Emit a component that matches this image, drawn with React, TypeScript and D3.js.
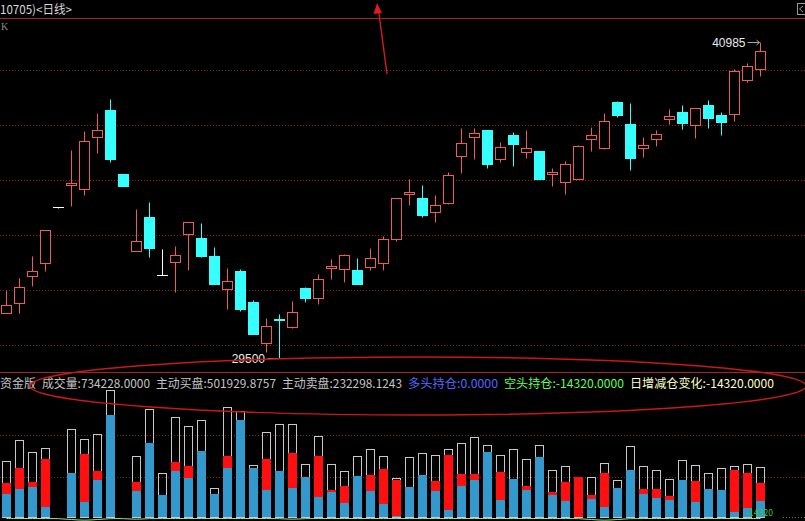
import React from "react";
import * as d3 from "d3";

const WIDTH = 805;
const HEIGHT = 521;

// ---- price data (daily candles) ----
const opens = [
  31155, 31520, 32500, 32955, 35010, 35800, 35640, 37530, 38525, 36185,
  33410, 34645, 32525, 33010, 34005, 33870, 33220, 32010, 32675, 31555,
  30045, 30930, 30650, 32055, 31700, 32780, 32735, 32710, 32830, 32975,
  33835, 35470, 35325, 34805, 35155, 36865, 37555, 37800, 36755, 37615,
  37010, 37035, 36185, 35920, 36005, 37460, 37155, 38825, 38015, 37155,
  37480, 38185, 38450, 37990, 38705, 38345, 38370, 39615, 40005,
];
const highs = [
  31980, 32420, 33220, 34160, 35010, 37070, 37760, 38405, 38925, 36185,
  34925, 35170, 33460, 33580, 34445, 34405, 33555, 32770, 32735, 31620,
  30965, 31100, 31580, 32100, 32565, 33110, 33290, 33135, 33520, 33945,
  35325, 36015, 35800, 35435, 36260, 37860, 37860, 37800, 37370, 37735,
  37800, 37035, 36425, 36670, 37250, 37895, 38405, 38860, 38790, 37530,
  37800, 38550, 38705, 38585, 38890, 38465, 40005, 40245, 40985,
];
const lows = [
  31155, 31145, 32140, 32685, 34965, 35035, 35435, 36950, 36645, 35775,
  33410, 33195, 32525, 31920, 32710, 33195, 32210, 31290, 31230, 30385,
  29740, 29500, 30590, 31555, 31475, 32380, 32260, 32200, 32710, 32710,
  33765, 35070, 34645, 34445, 35110, 36225, 36745, 36425, 36645, 36490,
  36790, 36015, 35775, 35480, 36005, 37035, 37105, 38260, 36345, 36825,
  37225, 38005, 37835, 37520, 37880, 37615, 38125, 39540, 39770,
];
const closes = [
  31435, 32080, 32675, 34150, 35010, 35870, 37400, 37800, 36745, 35775,
  33750, 33520, 32525, 33255, 34445, 33230, 32210, 32310, 31290, 30385,
  30675, 30890, 31170, 31700, 32380, 32855, 33255, 32200, 33135, 33825,
  35325, 35545, 34710, 35060, 36160, 37315, 37700, 36560, 37170, 37290,
  37130, 36015, 36260, 36560, 37215, 37605, 38125, 38355, 36790, 37250,
  37640, 38305, 38065, 38585, 38245, 38100, 39955, 40125, 40670,
];

// ---- volume data (thousand lots): active sell (blue) and active buy ----
const activeSell = [
  335, 414, 443, 152, 2, 652, 226, 546, 1507, 2,
  384, 1097, 325, 679, 580, 979, 340, 724, 1437, 728,
  399, 685, 433, 586, 295, 374, 211, 606, 384, 192,
  18, 445, 620, 384, 99, 458, 546, 960, 251, 561,
  399, 891, 325, 236, 5, 261, 143, 428, 690, 340,
  276, 251, 546, 226, 414, 399, 69, 128, 232.298,
];
const activeBuy = [
  495, 722, 522, 860, 2, 648, 933, 686, 369, 2,
  515, 498, 320, 805, 758, 449, 84, 908, 124, 40,
  859, 684, 941, 192, 908, 402, 463, 295, 622, 706,
  552, 441, 321, 537, 910, 640, 630, 99, 670, 439,
  456, 168, 370, 512, 584, 328, 648, 114, 354, 411,
  412, 316, 291, 535, 231, 320, 689, 655, 501.93,
];
// faint holding line at the very bottom of the volume pane
const holdLine = [
  1, 1, 1, 1, 1, 0.5, 0, 0.5, 1, 1,
  0.5, 1, 1, 1, 1, 1, 1, 1, 1, 1,
  1, 1, 0.5, 1, 1, 1, 1, 1, 1, 1,
  1, 1, 1, 1, 1, 1, 1, 1, 1, 1,
  1, 1, 1, 1, 1, 0.5, 0, 0.5, 1, 1,
  1, 1, 1, 1, 1, 1, 1, 1, 1,
];

const priceTicks = [30000, 32000, 34000, 36000, 38000, 40000];

const headerText = "10705)<日线>";
const infoSegments = [
  { text: "资金版", color: "#c4c4c4" },
  { text: "成交量:734228.0000", color: "#c4c4c4" },
  { text: "主动买盘:501929.8757", color: "#c4c4c4" },
  { text: "主动卖盘:232298.1243", color: "#c4c4c4" },
  { text: "多头持仓:0.0000", color: "#5468ff" },
  { text: "空头持仓:-14320.0000", color: "#5cff5c" },
  { text: "日增减仓变化:-14320.0000", color: "#ffffc8" },
];

const RED = "#ec5a5a";
const CYAN = "#36ffff";
const GRID = "#8a1c1c";
const LINE = "#a82222";
const VBLUE = "#3399cc";
const VRED = "#ff1010";
const VOUT = "#c8c8c8";

const textWidth = (s: string, unit = 6) => {
  let w = 0;
  for (const ch of s) w += /[\u2E80-\u9FFF\uFF00-\uFF60]/.test(ch) ? unit * 2 : unit;
  return w;
};

const FONT = "'Noto Sans CJK SC', 'Noto Sans', sans-serif";

function FixedText({ x, y, text, color, size = 12 }: { x: number; y: number; text: string; color: string; size?: number }) {
  return (
    <text
      x={x}
      y={y}
      fill={color}
      fontSize={size}
      fontFamily={FONT}
      dominantBaseline="central"
      textLength={textWidth(text, size / 2)}
      lengthAdjust="spacingAndGlyphs"
    >
      {text}
    </text>
  );
}

export default function App() {
  const n = opens.length;
  const xBand = d3.scaleBand<number>().domain(d3.range(n)).range([0, 13 * n]);
  const cx = (i: number) => (xBand(i) as number) + xBand.bandwidth() / 2;

  const py = d3.scaleLinear().domain([30000, 40000]).range([344.5, 69.5]);
  const snap = (v: number) => Math.round(py(v)) + 0.5;

  const volTop = 392;
  const volBase = 517;
  const vy = d3.scaleLinear().domain([0, 2000]).range([volBase, volBase - 2000 / 14.77]);
  const holdY = d3.scaleLinear().domain([0, 1]).range([520.5, 518.5]);

  const hiIdx = d3.maxIndex(highs);
  const loIdx = d3.minIndex(lows);

  // info segments layout
  let cursor = 0;
  const infoLaid = infoSegments.map((s) => {
    const x0 = cursor;
    cursor += textWidth(s.text) + 6;
    return { ...s, x: x0 };
  });

  const holdPath = d3
    .line<number>()
    .x((_, i) => cx(i))
    .y((v) => holdY(v))
    .curve(d3.curveBasis)(holdLine);

  return (
    <div style={{ position: "absolute", left: 0, top: 0 }}>
      <svg width={WIDTH} height={HEIGHT} style={{ display: "block", background: "#000" }}>
        <rect x={0} y={0} width={WIDTH} height={HEIGHT} fill="#000" />

        {/* header */}
        <FixedText x={0} y={8.5} text={headerText} color="#d8d8d8" />
        <text x={1} y={30} fill="#8c8c8c" fontSize={10} fontFamily="'Liberation Serif', serif">K</text>
        <rect x={797.5} y={3.5} width={9} height={11} fill="none" stroke="#9a9a9a" />
        <path d="M803,6 L799.5,9 L803,12" fill="none" stroke="#9a9a9a" />
        <line x1={0} x2={WIDTH} y1={18.5} y2={18.5} stroke={LINE} strokeWidth={1.2} />

        {/* price grid */}
        {priceTicks.map((t) => (
          <line key={t} x1={0} x2={WIDTH} y1={snap(t)} y2={snap(t)} stroke={GRID} strokeDasharray="1 2" />
        ))}

        {/* candles */}
        {opens.map((o, i) => {
          const c = closes[i];
          const x = cx(i);
          const yH = snap(highs[i]);
          const yL = snap(lows[i]);
          const yT = snap(Math.max(o, c));
          const yB = snap(Math.min(o, c));
          if (c > o) {
            return (
              <g key={i}>
                <line x1={x} x2={x} y1={yH} y2={yT} stroke={RED} />
                <line x1={x} x2={x} y1={yB} y2={yL} stroke={RED} />
                <rect x={x - 5} y={yT} width={10} height={Math.max(1, yB - yT)} fill="#000" stroke={RED} />
              </g>
            );
          }
          if (c < o) {
            return (
              <g key={i}>
                <line x1={x} x2={x} y1={yH} y2={yL} stroke={CYAN} />
                <rect x={x - 5.5} y={yT - 0.5} width={11} height={Math.max(1, yB - yT + 1)} fill={CYAN} />
              </g>
            );
          }
          return (
            <g key={i}>
              <line x1={x} x2={x} y1={yH} y2={yL} stroke="#ffffff" />
              <line x1={x - 5.5} x2={x + 5.5} y1={yT} y2={yT} stroke="#ffffff" />
            </g>
          );
        })}

        {/* high / low labels */}
        <g>
          <text x={cx(hiIdx) - 15} y={snap(highs[hiIdx])} fill="#e8e8e8" fontSize={12}
            fontFamily="'Liberation Sans', sans-serif" textAnchor="end" dominantBaseline="central">
            {String(highs[hiIdx])}
          </text>
          <line x1={cx(hiIdx) - 13} x2={cx(hiIdx) - 1} y1={snap(highs[hiIdx])} y2={snap(highs[hiIdx])} stroke="#a8a8a8" />
          <path d={`M${cx(hiIdx) - 4},${snap(highs[hiIdx]) - 2.5} L${cx(hiIdx) - 1},${snap(highs[hiIdx])} L${cx(hiIdx) - 4},${snap(highs[hiIdx]) + 2.5}`} fill="none" stroke="#a8a8a8" />
          <text x={cx(loIdx) - 14.5} y={snap(lows[loIdx])} fill="#e8e8e8" fontSize={12}
            fontFamily="'Liberation Sans', sans-serif" textAnchor="end" dominantBaseline="central">
            {String(lows[loIdx])}
          </text>
          <line x1={cx(loIdx) - 12} x2={cx(loIdx) - 1} y1={snap(lows[loIdx])} y2={snap(lows[loIdx])} stroke="#a8a8a8" />
        </g>

        {/* separator + info line */}
        <line x1={0} x2={WIDTH} y1={372.5} y2={372.5} stroke={LINE} strokeWidth={1} />
        {infoLaid.map((s, i) => (
          <FixedText key={i} x={s.x} y={382.5} text={s.text} color={s.color} />
        ))}

        {/* volume grid */}
        {[1, 2].map((k) => {
          const y = Math.round(volTop + (k * (520 - volTop)) / 3) + 0.5;
          return <line key={k} x1={0} x2={WIDTH} y1={y} y2={y} stroke={GRID} strokeDasharray="1 2" />;
        })}

        {/* volume bars */}
        {activeSell.map((s, i) => {
          const b = activeBuy[i];
          const total = s + b;
          const x = cx(i);
          const yTot = Math.round(vy(total));
          if (volBase - yTot < 1) return null;
          const ySell = Math.round(vy(s));
          const yBuy = Math.round(vy(b));
          return (
            <g key={i}>
              <rect x={x - 4} y={yTot + 0.5} width={8} height={volBase - yTot} fill="none" stroke={VOUT} />
              {b > s && (
                <rect x={x - 4.5} y={yBuy} width={9} height={ySell - yBuy} fill={VRED} />
              )}
              <rect x={x - 4.5} y={ySell} width={9} height={volBase - ySell} fill={VBLUE} />
            </g>
          );
        })}

        {/* bottom holding line + label */}
        <path d={holdPath ?? ""} fill="none" stroke="#8fe88f" strokeWidth={1} />
        <FixedText x={746} y={512.5} text="-14320" color="#3cc83c" size={9} />
        <line x1={783} x2={WIDTH} y1={517.5} y2={517.5} stroke="#3c8c3c" strokeDasharray="1 2" />

        {/* hand-drawn annotations */}
        <ellipse cx={418} cy={386} rx={388} ry={29} fill="none" stroke="#c81818" strokeWidth={1.4} />
        <line x1={387} y1={74} x2={378.5} y2={10} stroke="#d81c1c" strokeWidth={1.4} />
        <path d="M377,3 L373.5,14 L382,13 Z" fill="#e01c1c" />
      </svg>
    </div>
  );
}
